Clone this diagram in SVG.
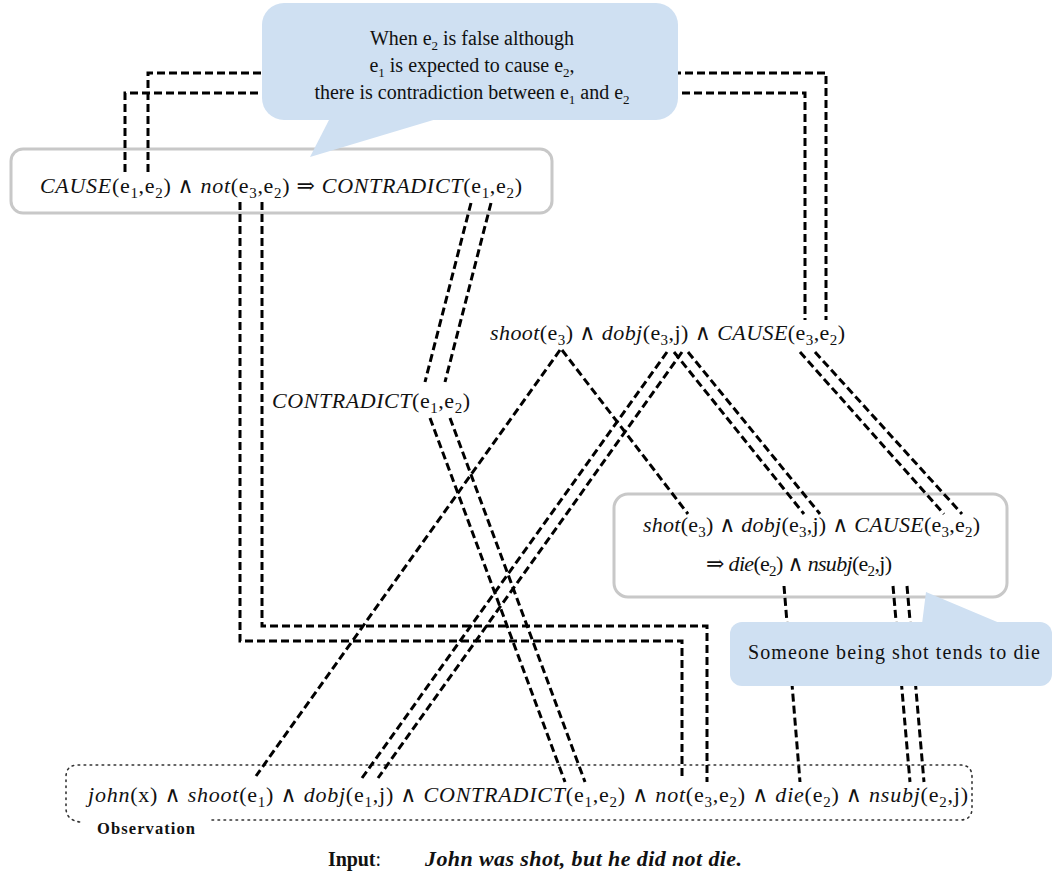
<svg xmlns="http://www.w3.org/2000/svg" width="1055" height="890" viewBox="0 0 1055 890">
<style>
.f{font-family:"Liberation Serif","Times New Roman",Tinos,"DejaVu Serif","Noto Serif",serif;font-size:22px;fill:#111}
.i{font-style:italic}
.s{font-size:15px}
.t{font-family:"Liberation Serif","Times New Roman",Tinos,"DejaVu Serif","Noto Serif",serif;font-size:20px;fill:#111}
.ts{font-size:13px}
.b{font-family:"Liberation Serif","Times New Roman",Tinos,"DejaVu Serif","Noto Serif",serif;fill:#111}
.box{fill:#fff;stroke:#c8c8c8;stroke-width:3}
.bub{fill:#cfe0f2;stroke:none}
.d{fill:none;stroke:#000;stroke-width:3;stroke-dasharray:8 4}
.dot{fill:none;stroke:#333;stroke-width:1.6;stroke-dasharray:1.6 4.4;stroke-linecap:round}
</style>
<rect width="1055" height="890" fill="#fff"/>
<g id="rule1-box"><rect class="box" x="11" y="149" width="541" height="64" rx="12"/></g>
<g id="rule2-box"><rect class="box" x="614" y="494" width="393" height="103" rx="14"/></g>
<g id="observation-box">
<path class="dot" d="M212,820 H960 Q972,820 972,808 V777 Q972,765 960,765 H78 Q66,765 66,777 V808 Q66,820 80,822"/>
</g>
<g id="connectors">
<path class="d" d="M125,172 V93 H805 V320"/>
<path class="d" d="M148,172 V73 H826 V320"/>
<path class="d" d="M240,202 V641 H682 V780"/>
<path class="d" d="M262,202 V626 H707 V782"/>
<path class="d" d="M471,203 L425,382"/>
<path class="d" d="M491,203 L445,382"/>
<path class="d" d="M430,418 L565,782"/>
<path class="d" d="M450,418 L585,782"/>
<path class="d" d="M560,350 L256,776"/>
<path class="d" d="M562,350 L688,514"/>
<path class="d" d="M667,352 L362,778"/>
<path class="d" d="M682,352 L378,778"/>
<path class="d" d="M674,352 L804,514"/>
<path class="d" d="M688,352 L820,514"/>
<path class="d" d="M800,352 L944,514"/>
<path class="d" d="M815,352 L962,514"/>
<path class="d" d="M784,586 L800,782"/>
<path class="d" d="M893,586 L910,782"/>
<path class="d" d="M907,586 L924,782"/>
</g>
<g id="rule1">
<text class="f" x="40" y="193" textLength="482"><tspan class="i">CAUSE</tspan>(e<tspan class="s" dy="5">1</tspan><tspan dy="-5">,e</tspan><tspan class="s" dy="5">2</tspan><tspan dy="-5">) ∧ </tspan><tspan class="i">not</tspan>(e<tspan class="s" dy="5">3</tspan><tspan dy="-5">,e</tspan><tspan class="s" dy="5">2</tspan><tspan dy="-5">) ⇒ </tspan><tspan class="i">CONTRADICT</tspan>(e<tspan class="s" dy="5">1</tspan><tspan dy="-5">,e</tspan><tspan class="s" dy="5">2</tspan><tspan dy="-5">)</tspan></text>
</g>
<g id="hypothesis">
<text class="f" x="490" y="340" textLength="355"><tspan class="i">shoot</tspan>(e<tspan class="s" dy="5">3</tspan><tspan dy="-5">) ∧ </tspan><tspan class="i">dobj</tspan>(e<tspan class="s" dy="5">3</tspan><tspan dy="-5">,j) ∧ </tspan><tspan class="i">CAUSE</tspan>(e<tspan class="s" dy="5">3</tspan><tspan dy="-5">,e</tspan><tspan class="s" dy="5">2</tspan><tspan dy="-5">)</tspan></text>
</g>
<g id="contradict-label">
<text class="f" x="272" y="408" textLength="198"><tspan class="i">CONTRADICT</tspan>(e<tspan class="s" dy="5">1</tspan><tspan dy="-5">,e</tspan><tspan class="s" dy="5">2</tspan><tspan dy="-5">)</tspan></text>
</g>
<g id="rule2">
<text class="f" x="643" y="532" textLength="337"><tspan class="i">shot</tspan>(e<tspan class="s" dy="5">3</tspan><tspan dy="-5">) ∧ </tspan><tspan class="i">dobj</tspan>(e<tspan class="s" dy="5">3</tspan><tspan dy="-5">,j) ∧ </tspan><tspan class="i">CAUSE</tspan>(e<tspan class="s" dy="5">3</tspan><tspan dy="-5">,e</tspan><tspan class="s" dy="5">2</tspan><tspan dy="-5">)</tspan></text>
<text class="f" x="706" y="571" textLength="186">⇒ <tspan class="i">die</tspan>(e<tspan class="s" dy="5">2</tspan><tspan dy="-5">) ∧ </tspan><tspan class="i">nsubj</tspan>(e<tspan class="s" dy="5">2</tspan><tspan dy="-5">,j)</tspan></text>
</g>
<g id="observation">
<text class="f" x="88" y="802" textLength="880"><tspan class="i">john</tspan>(x) ∧ <tspan class="i">shoot</tspan>(e<tspan class="s" dy="5">1</tspan><tspan dy="-5">) ∧ </tspan><tspan class="i">dobj</tspan>(e<tspan class="s" dy="5">1</tspan><tspan dy="-5">,j) ∧ </tspan><tspan class="i">CONTRADICT</tspan>(e<tspan class="s" dy="5">1</tspan><tspan dy="-5">,e</tspan><tspan class="s" dy="5">2</tspan><tspan dy="-5">) ∧ </tspan><tspan class="i">not</tspan>(e<tspan class="s" dy="5">3</tspan><tspan dy="-5">,e</tspan><tspan class="s" dy="5">2</tspan><tspan dy="-5">) ∧ </tspan><tspan class="i">die</tspan>(e<tspan class="s" dy="5">2</tspan><tspan dy="-5">) ∧ </tspan><tspan class="i">nsubj</tspan>(e<tspan class="s" dy="5">2</tspan><tspan dy="-5">,j)</tspan></text>
<text class="b" x="97" y="834" font-size="16.5" font-weight="bold" textLength="98">Observation</text>
</g>
<g id="callout-top">
<rect class="bub" x="262" y="3" width="416" height="117" rx="22"/>
<polygon class="bub" points="330,118 310,157 440,118"/>
<text class="t" x="472" y="45" text-anchor="middle">When e<tspan class="ts" dy="5">2</tspan><tspan dy="-5"> is false although</tspan></text>
<text class="t" x="472" y="72" text-anchor="middle">e<tspan class="ts" dy="5">1</tspan><tspan dy="-5"> is expected to cause e</tspan><tspan class="ts" dy="5">2</tspan><tspan dy="-5">,</tspan></text>
<text class="t" x="472" y="99" text-anchor="middle">there is contradiction between e<tspan class="ts" dy="5">1</tspan><tspan dy="-5"> and e</tspan><tspan class="ts" dy="5">2</tspan></text>
</g>
<g id="callout-bottom">
<rect class="bub" x="730" y="622" width="322" height="64" rx="12"/>
<polygon class="bub" points="922,624 926,592 1002,624"/>
<text class="t" x="748" y="659" textLength="292">Someone being shot tends to die</text>
</g>
<g id="input">
<text class="b" x="328" y="866" font-size="20" textLength="53"><tspan font-weight="bold">Input</tspan>:</text>
<text class="b" x="425" y="866" font-size="22" font-weight="bold" font-style="italic" textLength="317">John was shot, but he did not die.</text>
</g>
</svg>
